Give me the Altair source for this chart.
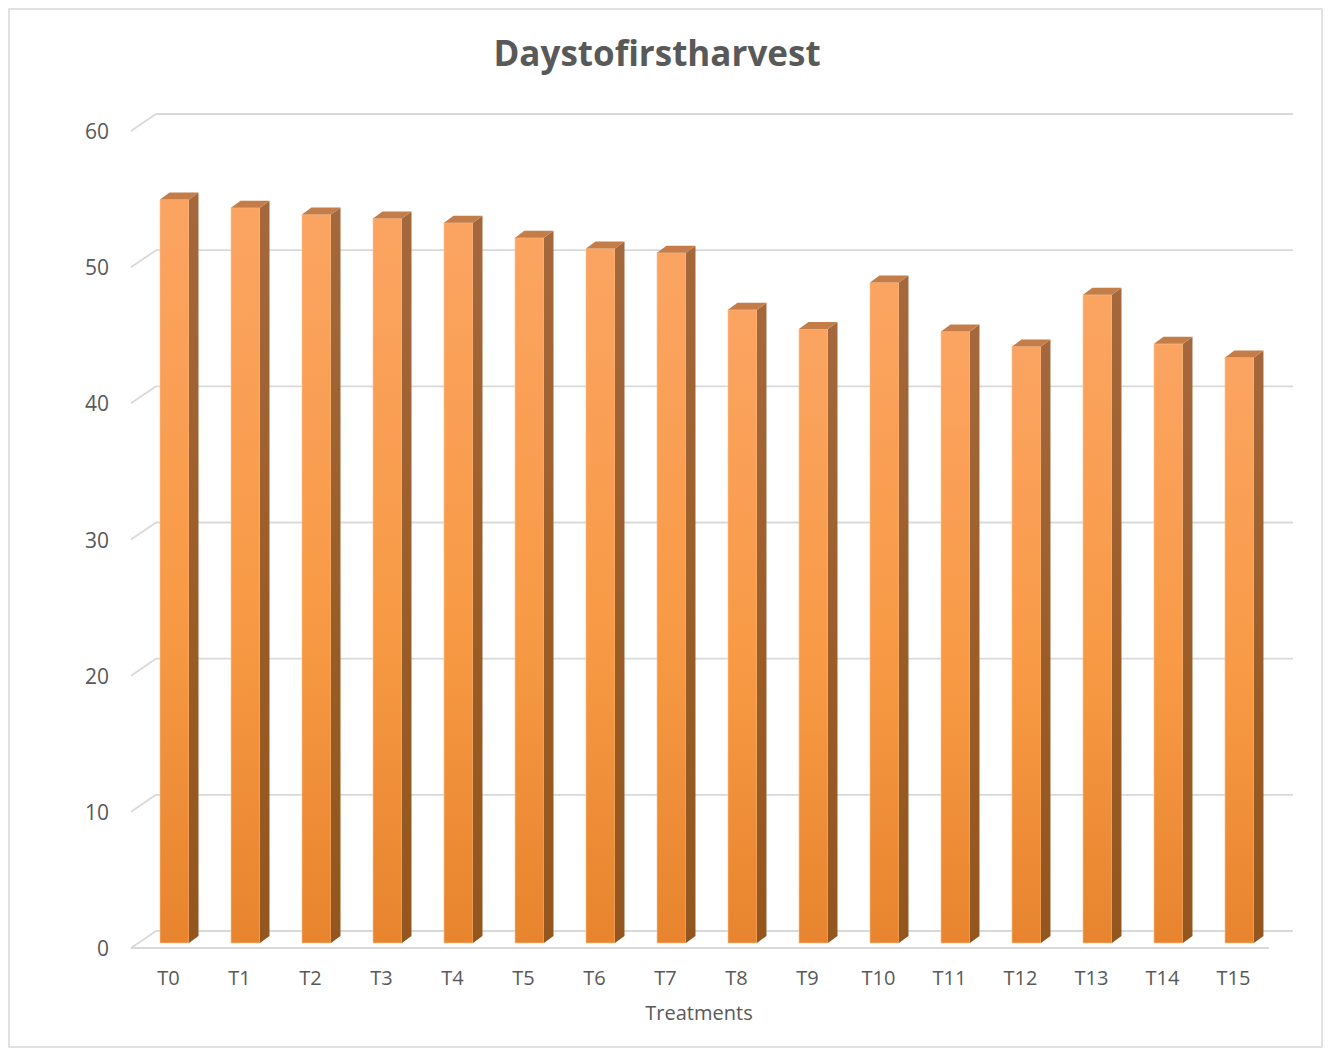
import altair as alt
import pandas as pd

# ---- data ----
categories = ["T0", "T1", "T2", "T3", "T4", "T5", "T6", "T7",
              "T8", "T9", "T10", "T11", "T12", "T13", "T14", "T15"]
values = [54.6, 54.0, 53.5, 53.2, 52.9, 51.8, 51.0, 50.7,
          46.5, 45.1, 48.5, 44.9, 43.8, 47.6, 44.0, 43.0]
y_ticks = [0, 10, 20, 30, 40, 50, 60]
chart_title = "Daystofirstharvest"
x_title = "Treatments"

df = pd.DataFrame({"cat": categories, "value": values,
                   "idx": list(range(len(categories)))})
ticks_df = pd.DataFrame({"tick": y_ticks, "label": [str(t) for t in y_ticks]})
one_df = pd.DataFrame({"title": [chart_title], "xtitle": [x_title]})

# ---- geometry (pixels -> data units) ----
W, H = 1162, 817
X_DOM = [-0.6127, 15.754]
Y_DOM = [0, 60]
XU = W / (X_DOM[1] - X_DOM[0])      # px per x unit
YU = H / (Y_DOM[1] - Y_DOM[0])      # px per y unit
HW = 14.5 / XU                       # half bar width
DX = 9.5 / XU                        # depth x
DY = 7.0 / YU                        # depth y
X_BACK = X_DOM[0] + 25 / XU          # back-left of wall
X_FRONT_R = X_DOM[0] + 1138 / XU     # right end of front floor edge

xs = alt.Scale(domain=X_DOM, nice=False, zero=False, padding=0)
ys = alt.Scale(domain=Y_DOM, nice=False, zero=False, padding=0)

GRID = "#D9D9D9"
TXT = "#595959"
FONT = "Open Sans"

# ---- gridlines (back wall + left diagonals) ----
back = alt.Chart(ticks_df).mark_rule(color=GRID, strokeWidth=1.8, yOffset=-12).encode(
    x=alt.X(datum=X_BACK, scale=xs, axis=None),
    x2=alt.X2(datum=X_DOM[1]),
    y=alt.Y("tick:Q", scale=ys, axis=None),
)
diag = alt.Chart(ticks_df).mark_rule(color=GRID, strokeWidth=1.8, yOffset=5, y2Offset=-12).encode(
    x=alt.X(datum=X_DOM[0], scale=xs, axis=None),
    x2=alt.X2(datum=X_BACK),
    y=alt.Y("tick:Q", scale=ys, axis=None),
    y2="tick:Q",
)
floor_front = alt.Chart(ticks_df).transform_filter("datum.tick == 0").mark_rule(
    color=GRID, strokeWidth=2, yOffset=5).encode(
    x=alt.X(datum=X_DOM[0], scale=xs, axis=None),
    x2=alt.X2(datum=X_FRONT_R),
    y=alt.Y("tick:Q", scale=ys, axis=None),
)
border = alt.Chart(one_df).mark_rect(
    fillOpacity=0, stroke=GRID, strokeWidth=1.5).encode(
    x=alt.value(-122), x2=alt.value(1191), y=alt.value(-117), y2=alt.value(921),
)

# ---- tick labels and titles as text marks ----
y_labels = alt.Chart(ticks_df).mark_text(
    font=FONT, fontSize=21, color=TXT, align="right", baseline="middle", dx=-22, dy=7).encode(
    x=alt.X(datum=X_DOM[0], scale=xs, axis=None),
    y=alt.Y("tick:Q", scale=ys, axis=None),
    text="label:N",
)
x_labels = alt.Chart(df).mark_text(
    font=FONT, fontSize=20, color=TXT, align="center", baseline="middle", dx=-6, dy=36).encode(
    x=alt.X("idx:Q", scale=xs, axis=None),
    y=alt.Y(datum=0, scale=ys, axis=None),
    text="cat:N",
)
x_title_mark = alt.Chart(one_df).mark_text(
    font=FONT, fontSize=20, color=TXT, align="center", baseline="middle").encode(
    x=alt.value(568), y=alt.value(888), text="xtitle:N",
)
title_mark = alt.Chart(one_df).mark_text(
    font=FONT, fontSize=35, fontWeight="bold", color=TXT, align="center",
    baseline="alphabetic").encode(
    x=alt.value(526), y=alt.value(-60), text="title:N",
)

# ---- bars ----
front_grad = alt.LinearGradient(
    gradient="linear", x1=0, x2=0, y1=0, y2=1,
    stops=[alt.GradientStop(color="#FBA462", offset=0),
           alt.GradientStop(color="#F89A45", offset=0.55),
           alt.GradientStop(color="#E8842E", offset=1)])
side_grad = alt.LinearGradient(
    gradient="linear", x1=0, x2=0, y1=0, y2=1,
    stops=[alt.GradientStop(color="#A4683C", offset=0),
           alt.GradientStop(color="#9A5C26", offset=0.6),
           alt.GradientStop(color="#93561E", offset=1)])

front = alt.Chart(df).mark_bar(width=29, color=front_grad, stroke="#FCC89A", strokeWidth=0.6).encode(
    x=alt.X("idx:Q", scale=xs, axis=None),
    y=alt.Y("value:Q", scale=ys, axis=None),
)

side = alt.Chart(df).transform_calculate(
    xa=f"datum.idx + {HW}", xb=f"datum.idx + {HW + DX}"
).transform_fold(["xa", "xb"], as_=["edge", "xpos"]).transform_calculate(
    lo=f"datum.edge == 'xb' ? {DY} : 0",
    hi=f"datum.value + (datum.edge == 'xb' ? {DY} : 0)",
).mark_area(color=side_grad).encode(
    x=alt.X("xpos:Q", scale=xs, axis=None),
    y=alt.Y("hi:Q", scale=ys, axis=None, stack=None),
    y2="lo:Q",
    detail="cat:N",
)

top = alt.Chart(df).transform_calculate(
    p1=f"datum.idx - {HW}", p2=f"datum.idx - {HW} + {DX}",
    p3=f"datum.idx + {HW}", p4=f"datum.idx + {HW} + {DX}",
).transform_fold(["p1", "p2", "p3", "p4"], as_=["edge", "xpos"]).transform_calculate(
    lo=f"datum.edge == 'p4' ? datum.value + {DY} : datum.value",
    hi=f"datum.edge == 'p1' ? datum.value : datum.value + {DY}",
).mark_area(color="#C47D49").encode(
    x=alt.X("xpos:Q", scale=xs, axis=None),
    y=alt.Y("hi:Q", scale=ys, axis=None, stack=None),
    y2="lo:Q",
    detail="cat:N",
)

chart = alt.layer(border, back, diag, floor_front, front, side, top,
                  y_labels, x_labels, x_title_mark, title_mark).properties(
    width=W, height=H,
    padding=0,
    background="white",
).configure_view(strokeWidth=0)

chart.save("out.html", embed_options={"renderer": "svg", "actions": False})
